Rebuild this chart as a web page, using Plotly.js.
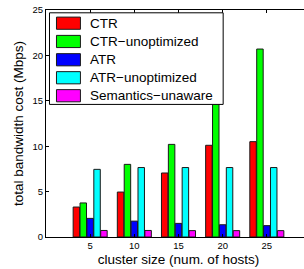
<!DOCTYPE html>
<html>
<head>
<meta charset="utf-8">
<script src="https://cdn.plot.ly/plotly-3.0.1.min.js"></script>
<style>
html,body{margin:0;padding:0;overflow:hidden;background:#fff;width:304px;height:269px;}
#chart{width:311px;height:269px;}
</style>
</head>
<body>
<div id="chart"></div>
<script>
const clusterSizes = [5, 10, 15, 20, 25];
const seriesNames = ["CTR", "CTR\u2212unoptimized", "ATR", "ATR\u2212unoptimized", "Semantics\u2212unaware"];
const seriesColors = ["#ff0000", "#00ff00", "#0000ff", "#00ffff", "#ff00ff"];
const ctr = [3.3, 4.95, 7.05, 10.1, 10.5];
const ctrUnoptimized = [3.75, 8.0, 10.2, 15.5, 20.7];
const atr = [2.05, 1.75, 1.5, 1.35, 1.25];
const atrUnoptimized = [7.45, 7.65, 7.65, 7.65, 7.65];
const semanticsUnaware = [0.72, 0.72, 0.7, 0.7, 0.7];
const seriesValues = [ctr, ctrUnoptimized, atr, atrUnoptimized, semanticsUnaware];
const xTicks = [5, 10, 15, 20, 25];
const yTicks = [0, 5, 10, 15, 20, 25];

const W = 311, H = 269;
const M = {l: 45.5, r: 0, t: 9.5, b: 32.3};
const PW = W - M.l - M.r, PH = H - M.t - M.b;
const px = x => (x - M.l) / PW;
const py = y => (H - M.b - y) / PH;

const font = "Liberation Sans, Arial, Helvetica, sans-serif";

const traces = seriesNames.map((n, i) => ({
  type: "bar",
  name: n,
  x: clusterSizes,
  y: seriesValues[i],
  marker: {color: seriesColors[i], line: {color: "#1a1a1a", width: 1}},
  showlegend: false,
  hoverinfo: "none"
}));

const shapes = [];
const annotations = [];
// legend box
shapes.push({type: "rect", xref: "paper", yref: "paper", x0: px(49), x1: px(223), y0: py(104), y1: py(12.3),
  fillcolor: "#ffffff", line: {color: "#000", width: 1}, layer: "above"});
const rowY = [22.7, 41, 59.3, 77.3, 95.3];
seriesNames.forEach((n, i) => {
  shapes.push({type: "rect", xref: "paper", yref: "paper", x0: px(56), x1: px(80),
    y0: py(rowY[i] + 6.1), y1: py(rowY[i] - 6.1),
    fillcolor: seriesColors[i], line: {color: "#1a1a1a", width: 1}, layer: "above"});
  annotations.push({xref: "paper", yref: "paper", x: px(88), y: py(rowY[i]), text: n,
    showarrow: false, xanchor: "left", yanchor: "middle",
    font: {family: font, size: 13.5, color: "#000"}});
});

const layout = {
  width: W, height: H,
  margin: M,
  paper_bgcolor: "#fff", plot_bgcolor: "#fff",
  barmode: "group",
  bargap: 0.22,
  bargroupgap: 0.06,
  font: {family: font, color: "#000"},
  xaxis: {
    range: [0, 30],
    tickvals: xTicks,
    ticktext: xTicks.map(String),
    ticks: "inside", ticklen: 3, tickcolor: "#000", tickwidth: 1,
    showline: true, linecolor: "#000", linewidth: 1, mirror: "ticks",
    showgrid: false, zeroline: false,
    tickfont: {family: font, size: 9.5, color: "#000"},
    title: {text: "cluster size (num. of hosts)", font: {family: font, size: 13.5, color: "#000"}, standoff: 4}
  },
  yaxis: {
    range: [0, 25],
    tickvals: yTicks,
    ticktext: yTicks.map(String),
    ticks: "inside", ticklen: 3, tickcolor: "#000", tickwidth: 1,
    showline: true, linecolor: "#000", linewidth: 1, mirror: "ticks",
    showgrid: false, zeroline: false,
    tickfont: {family: font, size: 9.5, color: "#000"},
    title: {text: "total bandwidth cost (Mbps)", font: {family: font, size: 13.5, color: "#000"}, standoff: 5}
  },
  shapes: shapes,
  annotations: annotations
};

Plotly.newPlot("chart", traces, layout, {staticPlot: true, displayModeBar: false});
</script>
</body>
</html>
